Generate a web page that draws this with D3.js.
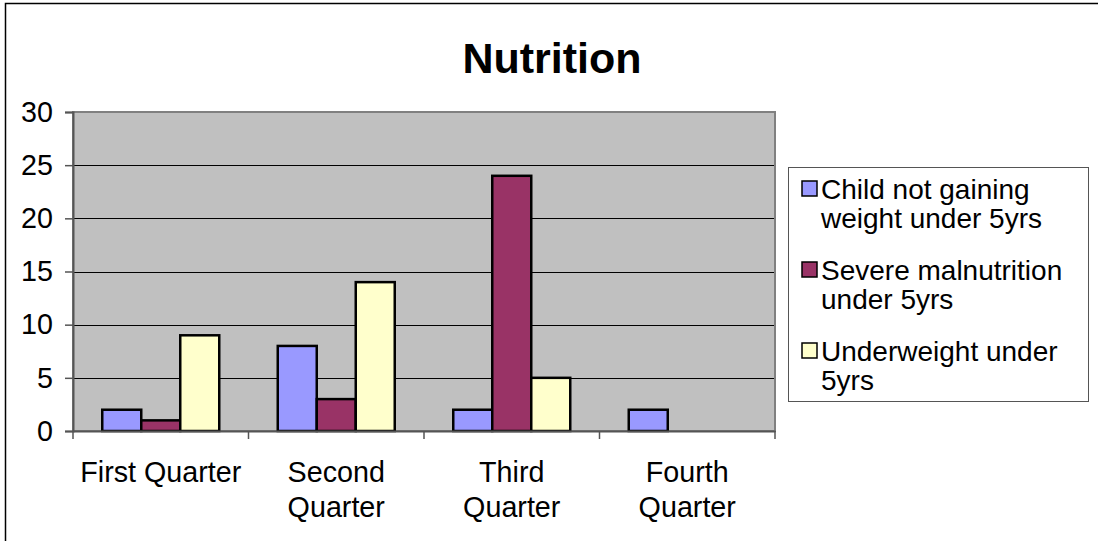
<!DOCTYPE html>
<html>
<head>
<meta charset="utf-8">
<script src="https://cdn.jsdelivr.net/npm/d3@7"></script>
<style>
  html, body { margin: 0; padding: 0; background: #fff; }
  svg { display: block; font-family: "Liberation Sans", Arial, sans-serif; }
</style>
</head>
<body>
<svg id="chart" width="1098" height="541"></svg>
<script>
// ---- data ----
const categories = ["First Quarter", "Second Quarter", "Third Quarter", "Fourth Quarter"];
const categoryLines = [["First Quarter"], ["Second", "Quarter"], ["Third", "Quarter"], ["Fourth", "Quarter"]];
const seriesNames = ["Child not gaining weight under 5yrs", "Severe malnutrition under 5yrs", "Underweight under 5yrs"];
const legendLines = [["Child not gaining", "weight under 5yrs"], ["Severe malnutrition", "under 5yrs"], ["Underweight under", "5yrs"]];
const childNotGaining = [2, 8, 2, 2];
const severeMalnutrition = [1, 3, 24, 0];
const underweight = [9, 14, 5, 0];
const yTicks = [0, 5, 10, 15, 20, 25, 30];
const colors = ["#9999FF", "#993366", "#FFFFCC"];
const title = "Nutrition";

const seriesValues = [childNotGaining, severeMalnutrition, underweight];

// ---- layout ----
const svg = d3.select("#chart");
const plot = { left: 73, right: 775, top: 112, bottom: 431 };
const fontSize = 28.7;

// outer chart border (top and left visible)
svg.append("rect").attr("x", 5.5).attr("y", 3.5).attr("width", 1200).attr("height", 700)
  .attr("fill", "#fff").attr("stroke", "#000").attr("stroke-width", 1.5);

const x0 = d3.scaleBand().domain(categories).range([plot.left, plot.right]).paddingInner(0).paddingOuter(0);
const x1 = d3.scaleBand().domain(d3.range(seriesNames.length)).range([0, x0.bandwidth()])
  .paddingInner(0).paddingOuter(0.75);
const y = d3.scaleLinear().domain([0, 30]).range([plot.bottom, plot.top]);

// plot background
svg.append("rect").attr("x", plot.left).attr("y", plot.top)
  .attr("width", plot.right - plot.left).attr("height", plot.bottom - plot.top)
  .attr("fill", "#C0C0C0");

// gridlines
svg.append("g").selectAll("line").data(yTicks.filter(d => d > 0)).join("line")
  .attr("x1", plot.left).attr("x2", plot.right)
  .attr("y1", d => Math.round(y(d)) + 0.5).attr("y2", d => Math.round(y(d)) + 0.5)
  .attr("stroke", "#000").attr("stroke-width", 1);

// plot border (gray)
svg.append("rect").attr("x", plot.left).attr("y", plot.top)
  .attr("width", plot.right - plot.left).attr("height", plot.bottom - plot.top)
  .attr("fill", "none").attr("stroke", "#808080").attr("stroke-width", 2);

// bars
const groups = svg.append("g").selectAll("g").data(categories).join("g")
  .attr("transform", c => `translate(${x0(c)},0)`);
groups.selectAll("rect")
  .data((c, ci) => seriesValues.map((vals, si) => ({ si, v: vals[ci] })).filter(d => d.v > 0))
  .join("rect")
  .attr("x", d => x1(d.si))
  .attr("y", d => y(d.v))
  .attr("width", x1.bandwidth())
  .attr("height", d => y(0) - y(d.v))
  .attr("fill", d => colors[d.si])
  .attr("stroke", "#000").attr("stroke-width", 2.5);

// y axis
const yAxis = d3.axisLeft(y).tickValues(yTicks).tickSize(8).tickPadding(12);
const gy = svg.append("g").attr("transform", `translate(${plot.left},0)`).call(yAxis);
gy.select(".domain").attr("stroke", "#555").attr("stroke-width", 2);
gy.selectAll(".tick line").attr("stroke", "#555").attr("stroke-width", 1.5);
gy.selectAll(".tick text").attr("font-size", fontSize).attr("fill", "#000")
  .attr("font-family", "Liberation Sans, Arial, sans-serif");

// x axis
const xAxis = d3.axisBottom(x0).tickSize(0).tickFormat("");
const gx = svg.append("g").attr("transform", `translate(0,${plot.bottom})`).call(xAxis);
gx.select(".domain").attr("stroke", "#555").attr("stroke-width", 2);
const boundaries = categories.map(c => x0(c)).concat([x0.range()[1]]);
gx.selectAll(".bound").data(boundaries).join("line").attr("class", "bound")
  .attr("x1", d => d).attr("x2", d => d).attr("y1", 0).attr("y2", 8)
  .attr("stroke", "#555").attr("stroke-width", 1.5);

// x labels
const xl = svg.append("g").selectAll("text").data(categories).join("text")
  .attr("x", c => x0(c) + x0.bandwidth() / 2)
  .attr("y", 482)
  .attr("text-anchor", "middle").attr("font-size", fontSize).attr("fill", "#000");
xl.selectAll("tspan").data((c, i) => categoryLines[i]).join("tspan")
  .attr("x", function() { return d3.select(this.parentNode).attr("x"); })
  .attr("dy", (d, i) => i === 0 ? 0 : 35)
  .text(d => d);

// title
svg.append("text").attr("x", 552).attr("y", 73).attr("text-anchor", "middle")
  .attr("font-size", 43).attr("font-weight", "bold").attr("fill", "#000").text(title);

// legend
const lg = svg.append("g");
lg.append("rect").attr("x", 788.5).attr("y", 167.5).attr("width", 300).attr("height", 234)
  .attr("fill", "#fff").attr("stroke", "#555").attr("stroke-width", 1);
const entryY = [199, 280, 361];
const items = lg.selectAll("g.item").data(seriesNames).join("g").attr("class", "item");
items.append("rect")
  .attr("x", 802).attr("y", (d, i) => entryY[i] - 18)
  .attr("width", 15).attr("height", 15)
  .attr("fill", (d, i) => colors[i]).attr("stroke", "#000").attr("stroke-width", 1.5);
const lt = items.append("text").attr("x", 821).attr("y", (d, i) => entryY[i])
  .attr("font-size", 28).attr("fill", "#000");
lt.selectAll("tspan").data((d, i) => legendLines[i]).join("tspan")
  .attr("x", 821).attr("dy", (d, i) => i === 0 ? 0 : 29).text(d => d);
</script>
</body>
</html>
